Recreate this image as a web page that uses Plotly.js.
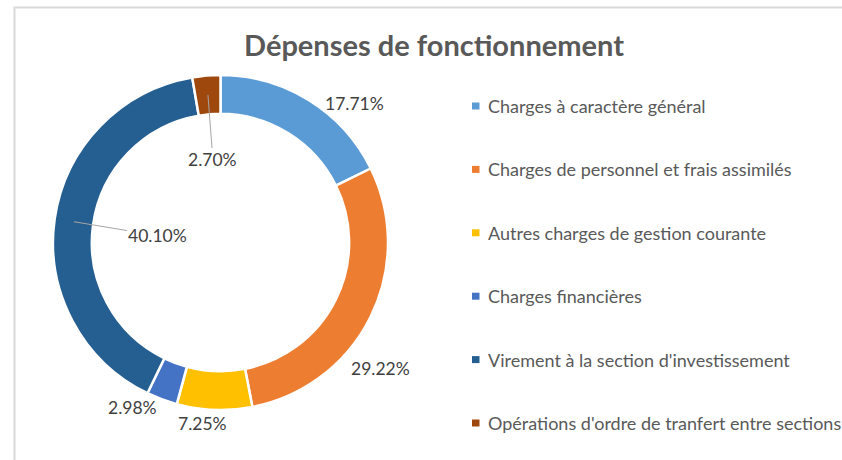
<!DOCTYPE html>
<html><head><meta charset="utf-8">
<script src="https://cdn.plot.ly/plotly-3.0.1.min.js"></script>
<style>html,body{margin:0;padding:0;background:#fff;overflow:hidden}</style>
</head><body><div id="chart" style="width:842px;height:460px"></div>
<script>
const categories = [
  "Charges à caractère général",
  "Charges de personnel et frais assimilés",
  "Autres charges de gestion courante",
  "Charges financières",
  "Virement à la section d'investissement",
  "Opérations d'ordre de tranfert entre sections"
];
const values = [17.71, 29.22, 7.25, 2.98, 40.10, 2.70];
const colors = ["#5B9BD5", "#ED7D31", "#FFC000", "#4472C4", "#255E91", "#9E480E"];
const titleText = "Dépenses de fonctionnement";

// layout constants (pixels)
const W = 842, H = 460;
const cx = 220.5, cy = 242.5, R = 167.5, hole = 0.768;
const px = x => x / W, py = y => 1 - y / H;

// label placement: offsets from the slice anchor (screen px)
const labelPlacement = [
  {type: "out", dx: 46, dy: 3},
  {type: "out", dx: 10, dy: 52},
  {type: "out", dx: -12, dy: 14},
  {type: "out", dx: -29, dy: 8.5},
  {type: "in", dx: 84, dy: 14},
  {type: "in", dx: 5, dy: 65}
];

const total = values.reduce((a, b) => a + b, 0);
let cum = 0;
const annotations = [];
values.forEach((v, i) => {
  const mid = (cum + v / 2) / total * 2 * Math.PI;
  cum += v;
  const p = labelPlacement[i];
  const r = p.type === "out" ? R : R * (1 + hole) / 2;
  const ax = cx + r * Math.sin(mid), ay = cy - r * Math.cos(mid);
  const txt = v.toFixed(2) + "%";
  const font = {family: "Lato, 'Open Sans', sans-serif", size: 17.5, color: "#404040"};
  if (p.type === "out") {
    annotations.push({xref: "paper", yref: "paper", x: px(ax), y: py(ay),
      xshift: p.dx, yshift: -p.dy, text: txt, showarrow: false,
      xanchor: "center", yanchor: "middle", font});
  } else {
    annotations.push({xref: "paper", yref: "paper", x: px(ax), y: py(ay),
      ax: p.dx, ay: p.dy, text: txt, showarrow: true, arrowhead: 0,
      arrowwidth: 1, arrowcolor: "#a6a6a6", standoff: 0, startstandoff: 0,
      xanchor: "center", yanchor: "middle", font});
  }
});

// custom legend
const shapes = [{
  type: "rect", xref: "paper", yref: "paper",
  x0: px(14.5), x1: 1.1, y0: -0.1, y1: py(7.5),
  line: {color: "#d9d9d9", width: 2}, fillcolor: "rgba(0,0,0,0)"
}];
categories.forEach((c, i) => {
  const yc = 106 + i * 63.4;
  shapes.push({type: "rect", xref: "paper", yref: "paper",
    x0: px(472), x1: px(479.5), y0: py(yc + 3.5), y1: py(yc - 3.5),
    line: {width: 0}, fillcolor: colors[i]});
  annotations.push({xref: "paper", yref: "paper", x: px(486), y: py(yc),
    text: c, showarrow: false, xanchor: "left", yanchor: "middle",
    font: {family: "Lato, 'Open Sans', sans-serif", size: 18, color: "#595959"}});
});

const data = [{
  type: "pie",
  values: values,
  labels: categories,
  hole: hole,
  sort: false,
  direction: "clockwise",
  rotation: 0,
  marker: {colors: colors, line: {color: "#ffffff", width: 2.5}},
  textinfo: "none",
  hoverinfo: "label+percent",
  showlegend: false,
  domain: {x: [px(cx - R), px(cx + R)], y: [py(cy + R), py(cy - R)]}
}];

const layout = {
  width: W, height: H,
  margin: {l: 0, r: 0, t: 0, b: 0},
  paper_bgcolor: "#ffffff",
  showlegend: false,
  title: {text: "<b>" + titleText + "</b>", x: px(434), xanchor: "center",
    y: py(46), yanchor: "middle",
    font: {family: "Lato, 'Open Sans', sans-serif", size: 29, color: "#595959"}},
  annotations: annotations,
  shapes: shapes
};

Plotly.newPlot("chart", data, layout, {displayModeBar: false, staticPlot: true});
</script>
</body></html>
